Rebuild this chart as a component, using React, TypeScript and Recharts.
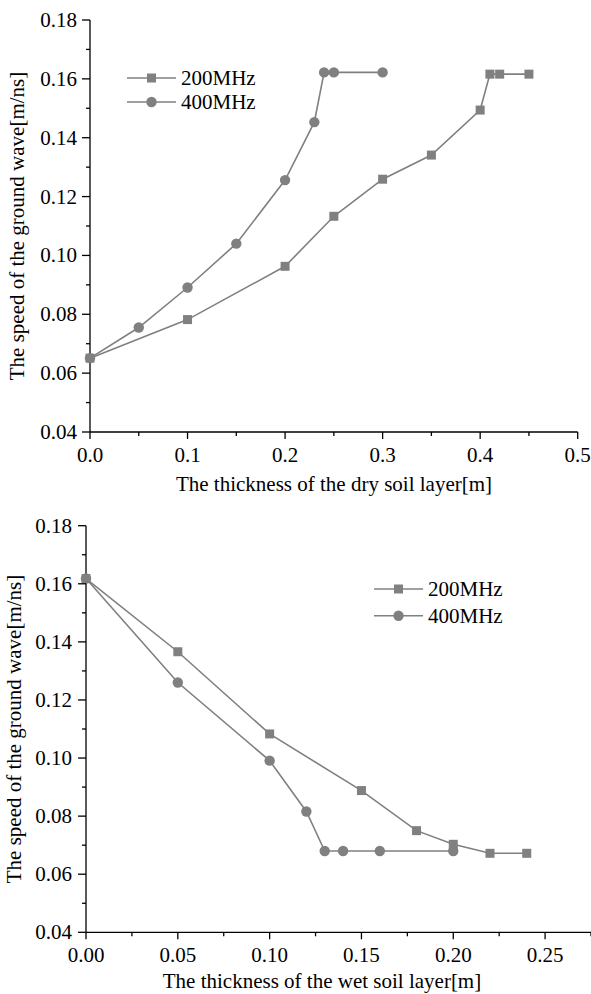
import { LineChart, Line, XAxis, YAxis, Legend } from 'recharts';

// ── values ────────────────────────────────────────────────────
const dryX200 = [0, 0.1, 0.2, 0.25, 0.3, 0.35, 0.4, 0.41, 0.42, 0.45];
const dryV200 = [0.0651, 0.0782, 0.0963, 0.1133, 0.1259, 0.1341, 0.1494, 0.1616, 0.1616, 0.1616];
const dryX400 = [0, 0.05, 0.1, 0.15, 0.2, 0.23, 0.24, 0.25, 0.3];
const dryV400 = [0.0651, 0.0755, 0.0891, 0.104, 0.1256, 0.1453, 0.1622, 0.1622, 0.1622];

const wetX200 = [0, 0.05, 0.1, 0.15, 0.18, 0.2, 0.22, 0.24];
const wetV200 = [0.1618, 0.1366, 0.1083, 0.0888, 0.075, 0.0703, 0.0672, 0.0672];
const wetX400 = [0, 0.05, 0.1, 0.12, 0.13, 0.14, 0.16, 0.2];
const wetV400 = [0.1618, 0.126, 0.0991, 0.0816, 0.068, 0.068, 0.068, 0.068];

const seriesNames = ['200MHz', '400MHz'];

const dryTicks = [0, 0.05, 0.1, 0.15, 0.2, 0.25, 0.3, 0.35, 0.4, 0.45, 0.5];
const dryMajor = [0, 0.1, 0.2, 0.3, 0.4, 0.5];
const wetTicks = [0, 0.025, 0.05, 0.075, 0.1, 0.125, 0.15, 0.175, 0.2, 0.225, 0.25, 0.275];
const wetMajor = [0, 0.05, 0.1, 0.15, 0.2, 0.25];
const yTicks = [0.04, 0.05, 0.06, 0.07, 0.08, 0.09, 0.1, 0.11, 0.12, 0.13, 0.14, 0.15, 0.16, 0.17, 0.18];
const yMajor = [0.04, 0.06, 0.08, 0.1, 0.12, 0.14, 0.16, 0.18];

const FONT = '"Liberation Serif", "Times New Roman", serif';
const FS = 21;
const GRAY = '#808080';
const AXIS = '#000';

const zip = (xs: number[], ys: number[]) => xs.map((x, i) => ({ x, y: ys[i] }));
const isIn = (v: number, list: number[]) => list.some((m) => Math.abs(m - v) < 1e-9);

function SquareDot(props: any) {
  const { cx, cy, index } = props;
  if (cx == null || cy == null) return null;
  return <rect key={index} x={cx - 4.5} y={cy - 4.5} width={9} height={9} fill={GRAY} />;
}

function CircleDot(props: any) {
  const { cx, cy, index } = props;
  if (cx == null || cy == null) return null;
  return <circle key={index} cx={cx} cy={cy} r={5.2} fill={GRAY} />;
}

function makeXTick(major: number[], digits: number, dy: number) {
  return (props: any) => {
    const { x, y, payload } = props;
    const big = isIn(payload.value, major);
    return (
      <g>
        <line x1={x} y1={y} x2={x} y2={y + (big ? 7 : 4)} stroke={AXIS} strokeWidth={1.3} />
        {big && (
          <text x={x} y={y + dy} textAnchor="middle" fontSize={FS} fontFamily={FONT} fill="#000">
            {payload.value.toFixed(digits)}
          </text>
        )}
      </g>
    );
  };
}

function makeYTick(gap: number) {
  return (props: any) => {
    const { x, y, payload } = props;
    const big = isIn(payload.value, yMajor);
    return (
      <g>
        <line x1={x} y1={y} x2={x - (big ? 8 : 4)} y2={y} stroke={AXIS} strokeWidth={1.3} />
        {big && (
          <text x={x - gap} y={y + 7} textAnchor="end" fontSize={FS} fontFamily={FONT} fill="#000">
            {payload.value.toFixed(2)}
          </text>
        )}
      </g>
    );
  };
}

function LegendBox({ rowGap }: { rowGap: number }) {
  return (
    <svg width={170} height={rowGap + 30} style={{ display: 'block' }}>
      {seriesNames.map((name, i) => {
        const y = 14 + i * rowGap;
        return (
          <g key={name}>
            <line x1={6} y1={y} x2={55} y2={y} stroke={GRAY} strokeWidth={1.6} />
            {i === 0 ? (
              <rect x={26} y={y - 4.5} width={9} height={9} fill={GRAY} />
            ) : (
              <circle cx={30.5} cy={y} r={5.2} fill={GRAY} />
            )}
            <text x={60} y={y + 7} fontSize={FS} fontFamily={FONT} fill="#000">
              {name}
            </text>
          </g>
        );
      })}
    </svg>
  );
}

interface PanelProps {
  top: number;
  margin: { top: number; right: number; left: number; bottom: number };
  xHeight: number;
  xDomain: [number, number];
  xTicks: number[];
  xMajor: number[];
  xDigits: number;
  xDy: number;
  yGap: number;
  d200: { x: number; y: number }[];
  d400: { x: number; y: number }[];
  xLabel: string;
  xLabelX: number;
  xLabelY: number;
  yLabelX: number;
  legendLeft: number;
  legendTop: number;
  rowGap: number;
}

function Panel(p: PanelProps) {
  return (
    <div style={{ position: 'absolute', left: 0, top: p.top }}>
      <LineChart width={591} height={497} margin={p.margin}>
        <XAxis
          dataKey="x"
          type="number"
          domain={p.xDomain}
          ticks={p.xTicks}
          interval={0}
          tickSize={0}
          tickMargin={0}
          tickLine={false}
          axisLine={{ stroke: AXIS, strokeWidth: 1.3 }}
          height={p.xHeight}
          tick={makeXTick(p.xMajor, p.xDigits, p.xDy)}
          label={{
            content: () => (
              <text x={p.xLabelX} y={p.xLabelY} textAnchor="middle" fontSize={FS} fontFamily={FONT} fill="#000">
                {p.xLabel}
              </text>
            ),
          }}
        />
        <YAxis
          type="number"
          domain={[0.04, 0.18]}
          ticks={yTicks}
          interval={0}
          width={60}
          tickSize={0}
          tickMargin={0}
          tickLine={false}
          axisLine={{ stroke: AXIS, strokeWidth: 1.3 }}
          tick={makeYTick(p.yGap)}
          label={{
            content: (lp: any) => {
              const vb = lp.viewBox || {};
              const cy = (vb.y ?? 0) + (vb.height ?? 0) / 2;
              return (
                <text
                  x={p.yLabelX}
                  y={cy}
                  transform={`rotate(-90, ${p.yLabelX}, ${cy})`}
                  textAnchor="middle"
                  fontSize={FS}
                  fontFamily={FONT}
                  fill="#000"
                >
                  The speed of the ground wave[m/ns]
                </text>
              );
            },
          }}
        />
        <Legend
          layout="vertical"
          align="center"
          verticalAlign="middle"
          wrapperStyle={{ left: p.legendLeft, top: p.legendTop, width: 'auto' }}
          content={() => <LegendBox rowGap={p.rowGap} />}
        />
        <Line
          data={p.d200}
          dataKey="y"
          name={seriesNames[0]}
          stroke={GRAY}
          strokeWidth={1.6}
          dot={SquareDot}
          activeDot={false}
          isAnimationActive={false}
        />
        <Line
          data={p.d400}
          dataKey="y"
          name={seriesNames[1]}
          stroke={GRAY}
          strokeWidth={1.6}
          dot={CircleDot}
          activeDot={false}
          isAnimationActive={false}
        />
      </LineChart>
    </div>
  );
}

export default function App() {
  return (
    <div style={{ position: 'absolute', left: 0, top: 0, width: 591, height: 994, background: '#fff' }}>
      <Panel
        top={0}
        margin={{ top: 20, right: 13.3, left: 30, bottom: 0 }}
        xHeight={65}
        xDomain={[0, 0.5]}
        xTicks={dryTicks}
        xMajor={dryMajor}
        xDigits={1}
        xDy={30}
        yGap={13}
        d200={zip(dryX200, dryV200)}
        d400={zip(dryX400, dryV400)}
        xLabel="The thickness of the dry soil layer[m]"
        xLabelX={334}
        xLabelY={491}
        yLabelX={24}
        legendLeft={121}
        legendTop={64}
        rowGap={24}
      />
      <Panel
        top={497}
        margin={{ top: 28.7, right: 0, left: 26, bottom: 0 }}
        xHeight={61.7}
        xDomain={[0, 0.275]}
        xTicks={wetTicks}
        xMajor={wetMajor}
        xDigits={2}
        xDy={29.4}
        yGap={14}
        d200={zip(wetX200, wetV200)}
        d400={zip(wetX400, wetV400)}
        xLabel="The thickness of the wet soil layer[m]"
        xLabelX={322}
        xLabelY={491}
        yLabelX={21}
        legendLeft={368}
        legendTop={78}
        rowGap={26.7}
      />
    </div>
  );
}
